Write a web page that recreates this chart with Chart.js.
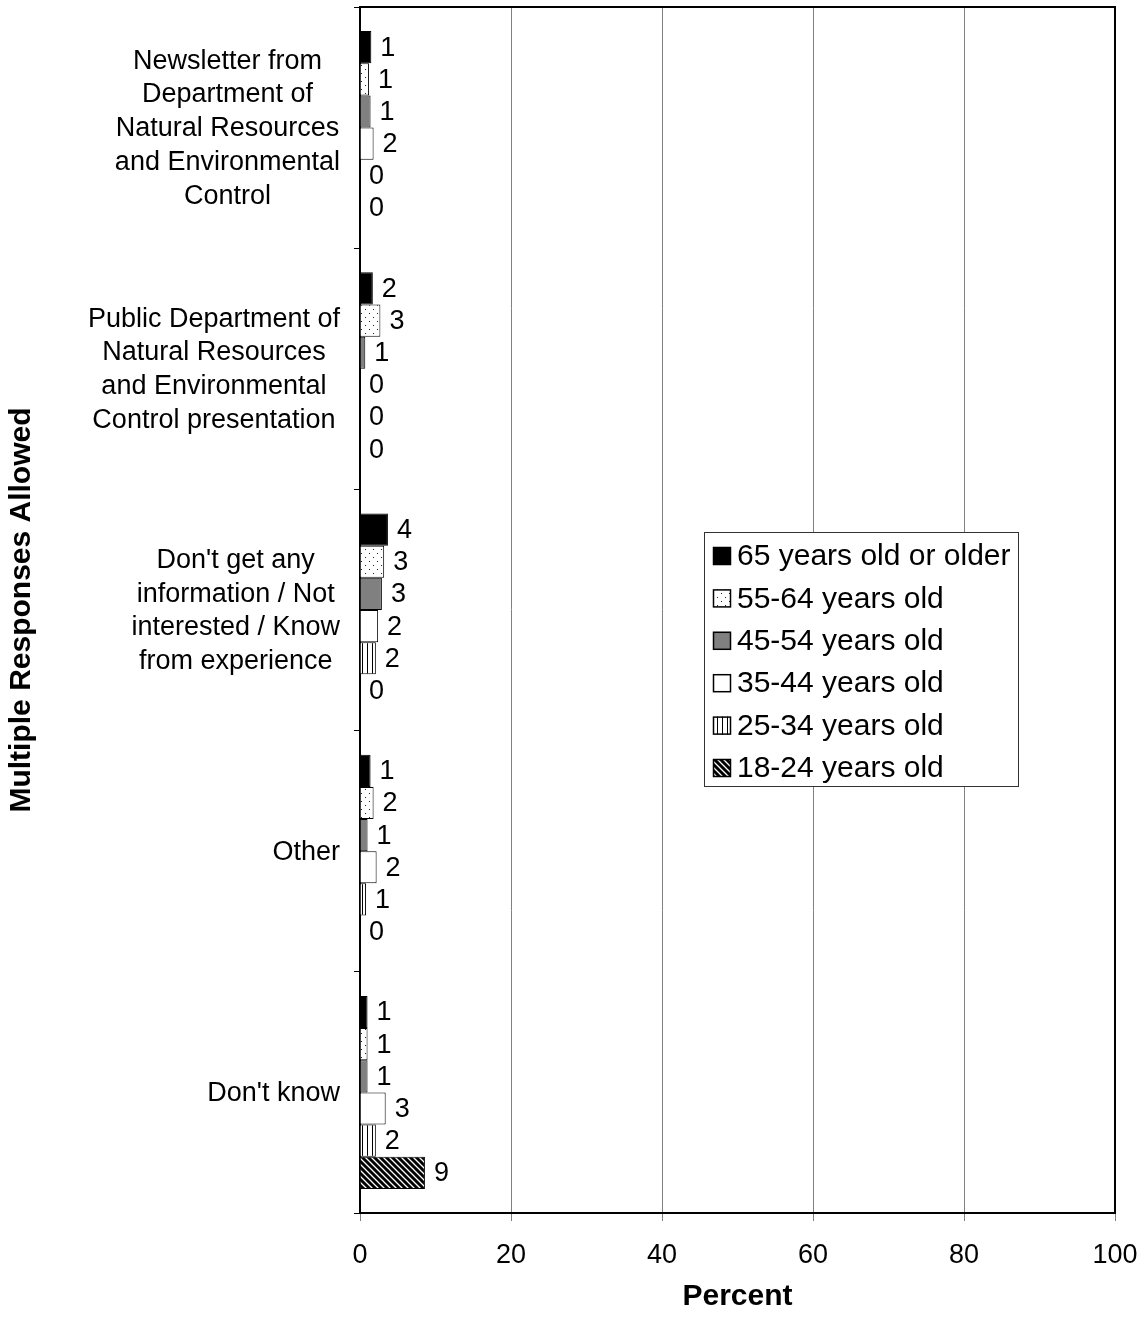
<!DOCTYPE html>
<html><head><meta charset="utf-8">
<script src="https://cdn.jsdelivr.net/npm/chart.js@4/dist/chart.umd.min.js"></script>
<style>html,body{margin:0;padding:0;background:#fff}canvas{display:block}</style>
</head><body>
<canvas id="c" width="1146" height="1321"></canvas>
<script>
const categories = [
  ["Newsletter from","Department of","Natural Resources","and Environmental","Control"],
  ["Public Department of","Natural Resources","and Environmental","Control presentation"],
  ["Don't get any","information / Not","interested / Know","from experience"],
  ["Other"],
  ["Don't know"]
];
const seriesNames = ["65 years old or older","55-64 years old","45-54 years old","35-44 years old","25-34 years old","18-24 years old"];
const age65plus = [1.5, 1.7, 3.7, 1.4, 1.0];
const age55to64 = [1.2, 2.7, 3.2, 1.8, 1.0];
const age45to54 = [1.4, 0.7, 2.9, 1.0, 1.0];
const age35to44 = [1.8, 0, 2.4, 2.2, 3.4];
const age25to34 = [0, 0, 2.1, 0.8, 2.1];
const age18to24 = [0, 0, 0, 0, 8.6];
const labels65plus = ["1","2","4","1","1"];
const labels55to64 = ["1","3","3","2","1"];
const labels45to54 = ["1","1","3","1","1"];
const labels35to44 = ["2","0","2","2","3"];
const labels25to34 = ["0","0","2","1","2"];
const labels18to24 = ["0","0","0","0","9"];
const xTicks = [0, 20, 40, 60, 80, 100];

const FONT = "'Liberation Sans', Arial, sans-serif";

function tile(w, h, draw) {
  const c = document.createElement('canvas');
  c.width = w; c.height = h;
  const g = c.getContext('2d');
  draw(g, w, h);
  return document.getElementById('c').getContext('2d').createPattern(c, 'repeat');
}
const dotPattern = tile(8, 8, (g) => {
  g.fillStyle = '#fff'; g.fillRect(0, 0, 8, 8);
  g.fillStyle = '#222'; g.fillRect(1, 1, 1, 1); g.fillRect(5, 5, 1, 1);
});
const vlinePattern = tile(5, 4, (g) => {
  g.fillStyle = '#fff'; g.fillRect(0, 0, 5, 4);
  g.fillStyle = '#000'; g.fillRect(2, 0, 1, 4);
});
const diagPattern = tile(6, 6, (g) => {
  g.fillStyle = '#000'; g.fillRect(0, 0, 6, 6);
  g.strokeStyle = '#fff'; g.lineWidth = 1.3;
  g.beginPath();
  g.moveTo(-1, -1); g.lineTo(7, 7);
  g.moveTo(-4, 2); g.lineTo(4, 10);
  g.moveTo(2, -4); g.lineTo(10, 4);
  g.stroke();
});

const fills = ['#000000', dotPattern, '#808080', '#ffffff', vlinePattern, diagPattern];
const seriesValues = [age65plus, age55to64, age45to54, age35to44, age25to34, age18to24];
const seriesLabels = [labels65plus, labels55to64, labels45to54, labels35to44, labels25to34, labels18to24];

const datasets = seriesNames.map((name, i) => ({
  label: name,
  data: seriesValues[i],
  valueLabels: seriesLabels[i],
  backgroundColor: fills[i],
  borderColor: '#000',
  borderWidth: 1,
  borderSkipped: 'start',
  categoryPercentage: 0.8,
  barPercentage: 1.0
}));

const extras = {
  id: 'extras',
  afterDatasetsDraw(chart) {
    const ctx = chart.ctx;
    ctx.save();
    ctx.font = '27px ' + FONT;
    ctx.fillStyle = '#000';
    ctx.textAlign = 'left';
    ctx.textBaseline = 'middle';
    chart.data.datasets.forEach((ds, di) => {
      const meta = chart.getDatasetMeta(di);
      meta.data.forEach((el, j) => {
        ctx.fillText(ds.valueLabels[j], el.x + 9, el.y + 1);
      });
    });
    ctx.restore();
  },
  afterDraw(chart) {
    const ctx = chart.ctx;
    const a = chart.chartArea;
    ctx.save();
    ctx.strokeStyle = '#000';
    ctx.lineWidth = 2;
    ctx.beginPath();
    ctx.moveTo(a.left - 1, a.top);
    ctx.lineTo(a.right, a.top);
    ctx.lineTo(a.right, a.bottom + 1);
    ctx.stroke();
    // category labels: block right-aligned, lines centered within block
    const ys = chart.scales.y;
    ctx.font = '27px ' + FONT;
    ctx.fillStyle = '#000';
    ctx.textAlign = 'center';
    ctx.textBaseline = 'middle';
    const lh = 33.75;
    chart.data.labels.forEach((lines, i) => {
      const cy = ys.getPixelForTick(i);
      const widest = Math.max(...lines.map(t => ctx.measureText(t).width));
      const cx = a.left - 20 - widest / 2;
      lines.forEach((t, k) => {
        ctx.fillText(t, cx, cy + (k - (lines.length - 1) / 2) * lh + 1);
      });
    });
    // legend
    const bx = 704.5, by = 532.5, bw = 314, bh = 254;
    ctx.fillStyle = '#fff';
    ctx.fillRect(bx, by, bw, bh);
    ctx.lineWidth = 1;
    ctx.strokeStyle = '#333';
    ctx.strokeRect(bx, by, bw, bh);
    ctx.font = '30px ' + FONT;
    ctx.textAlign = 'left';
    ctx.textBaseline = 'middle';
    chart.data.datasets.forEach((ds, i) => {
      const cy = 556 + i * 42.4;
      ctx.fillStyle = ds.backgroundColor;
      ctx.fillRect(713, cy - 9, 18, 18);
      ctx.strokeStyle = '#000';
      ctx.lineWidth = 1.5;
      ctx.strokeRect(713.5, cy - 8.5, 17, 17);
      ctx.fillStyle = '#000';
      ctx.fillText(ds.label, 737, cy + 1);
    });
    ctx.restore();
  }
};

new Chart(document.getElementById('c'), {
  type: 'bar',
  data: { labels: categories, datasets },
  options: {
    indexAxis: 'y',
    responsive: false,
    animation: false,
    devicePixelRatio: 1,
    layout: { padding: { top: 7, right: 31, left: 0, bottom: 0 } },
    plugins: { legend: { display: false }, tooltip: { enabled: false } },
    scales: {
      x: {
        min: 0, max: 100,
        afterBuildTicks: (s) => { s.ticks = xTicks.map(v => ({ value: v })); },
        afterFit: (s) => { s.height = 108; s.paddingLeft = 0; s.paddingRight = 0; },
        ticks: { color: '#000', font: { family: FONT, size: 27 }, padding: 18, maxRotation: 0 },
        grid: { color: '#808080', lineWidth: 1, tickLength: 8, drawTicks: true },
        border: { color: '#000', width: 2 },
        title: { display: true, text: 'Percent', color: '#000', font: { family: FONT, size: 30, weight: 'bold' }, padding: { top: 0, bottom: 6 } }
      },
      y: {
        afterFit: (s) => { s.width = 360; s.paddingTop = 0; s.paddingBottom = 0; },
        ticks: { display: false },
        grid: { drawOnChartArea: false, drawTicks: true, tickLength: 6, color: '#000', offset: true },
        border: { color: '#000', width: 2 },
        title: { display: true, text: 'Multiple Responses Allowed', color: '#000', font: { family: FONT, size: 30, weight: 'bold' }, padding: { top: 4, bottom: 4 } }
      }
    }
  },
  plugins: [extras]
});
</script>
</body></html>
